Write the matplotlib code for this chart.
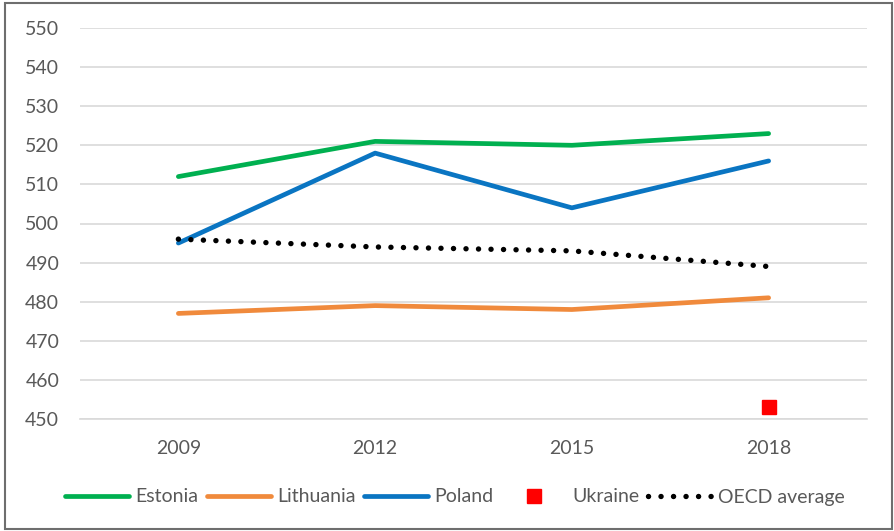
import matplotlib.pyplot as plt
from matplotlib.patches import Rectangle

# PISA scores
years = ['2009', '2012', '2015', '2018']
estonia = [512, 521, 520, 523]
lithuania = [477, 479, 478, 481]
poland = [495, 518, 504, 516]
ukraine_year = ['2018']
ukraine = [453]
oecd = [496, 494, 493, 489]

plt.rcParams['font.family'] = ['Lato', 'DejaVu Sans']
TXT = '#595959'

fig = plt.figure(figsize=(8.94, 5.31), dpi=100)
ax = fig.add_axes([80 / 894, 1 - 419 / 531, 787 / 894, 391 / 531])

x = list(range(len(years)))
ax.plot(x, estonia, color='#00B050', lw=3.4, solid_capstyle='round', label='Estonia', zorder=3)
ax.plot(x, lithuania, color='#F08A3C', lw=3.4, solid_capstyle='round', label='Lithuania', zorder=3)
ax.plot(x, poland, color='#0A75C2', lw=3.4, solid_capstyle='round', label='Poland', zorder=3)
ax.plot([years.index(y) for y in ukraine_year], ukraine, ls='none', marker='s',
        ms=10.5, color='#FF0000', label='Ukraine', zorder=4)
ax.plot(x, oecd, color='black', lw=3.9, ls=(0, (0.01, 2.3)), dash_capstyle='round',
        label='OECD average', zorder=3)

ax.set_xlim(-0.5, 3.5)
ax.set_ylim(450, 550)
ax.set_yticks(range(450, 551, 10))
ax.set_xticks(x)
ax.set_xticklabels(years)
ax.yaxis.grid(True, color='#D9D9D9', lw=1.2)
ax.set_axisbelow(True)
for s in ['top', 'right', 'left']:
    ax.spines[s].set_visible(False)
ax.spines['bottom'].set_color('#D9D9D9')
ax.spines['bottom'].set_linewidth(1.2)
ax.tick_params(length=0, labelsize=14, labelcolor=TXT)
ax.tick_params(axis='y', pad=15)
ax.tick_params(axis='x', pad=15)

leg = fig.legend(loc='center', bbox_to_anchor=(455 / 894, 1 - 497 / 531), ncol=5,
                 frameon=False, fontsize=14, handlelength=3.3, handletextpad=0.3,
                 columnspacing=0.45)
for t in leg.get_texts():
    t.set_color(TXT)

fig.patches.append(Rectangle((5 / 894, 2 / 531), 887 / 894, 526 / 531, transform=fig.transFigure,
                             fill=False, edgecolor='#6E6E6E', lw=1.5))

fig.savefig('out.png', dpi=100)
